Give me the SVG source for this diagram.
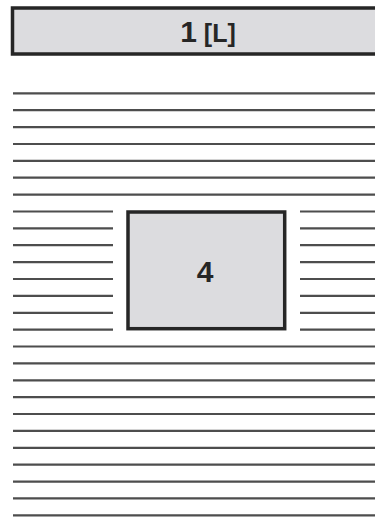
<svg xmlns="http://www.w3.org/2000/svg" width="375" height="518" viewBox="0 0 375 518">
<style>
.box{fill:#dcdcdf;stroke:#262626;stroke-width:3.5}
.ln{stroke:#4d4d4d;stroke-width:2.2;fill:none}
.t{font-family:"Liberation Sans",Arial,sans-serif;font-weight:bold;fill:#262626}
</style>
<rect width="375" height="518" fill="#ffffff"/>
<g id="node-1">
<rect class="box" x="12.5" y="8" width="380" height="46"/>
<text class="t" x="208" y="41.5" text-anchor="middle"><tspan font-size="30">1</tspan><tspan font-size="25"> [L]</tspan></text>
</g>
<g id="lines">
<path class="ln" d="M13 93.3H375M13 110.2H375M13 127.1H375M13 144H375M13 160.8H375M13 177.7H375M13 194.6H375
M13 211.5H113M13 228.4H113M13 245.2H113M13 262.1H113M13 279H113M13 295.9H113M13 312.8H113M13 329.6H113
M300 211.5H375M300 228.4H375M300 245.2H375M300 262.1H375M300 279H375M300 295.9H375M300 312.8H375M300 329.6H375
M13 346.5H375M13 363.4H375M13 380.3H375M13 397.2H375M13 414H375M13 430.9H375M13 447.8H375M13 464.7H375M13 481.6H375M13 498.4H375M13 515.3H375"/>
</g>
<g id="node-4">
<rect class="box" x="128" y="212" width="156.7" height="116.7"/>
<text class="t" x="205" y="281.5" text-anchor="middle" font-size="30">4</text>
</g>
</svg>
